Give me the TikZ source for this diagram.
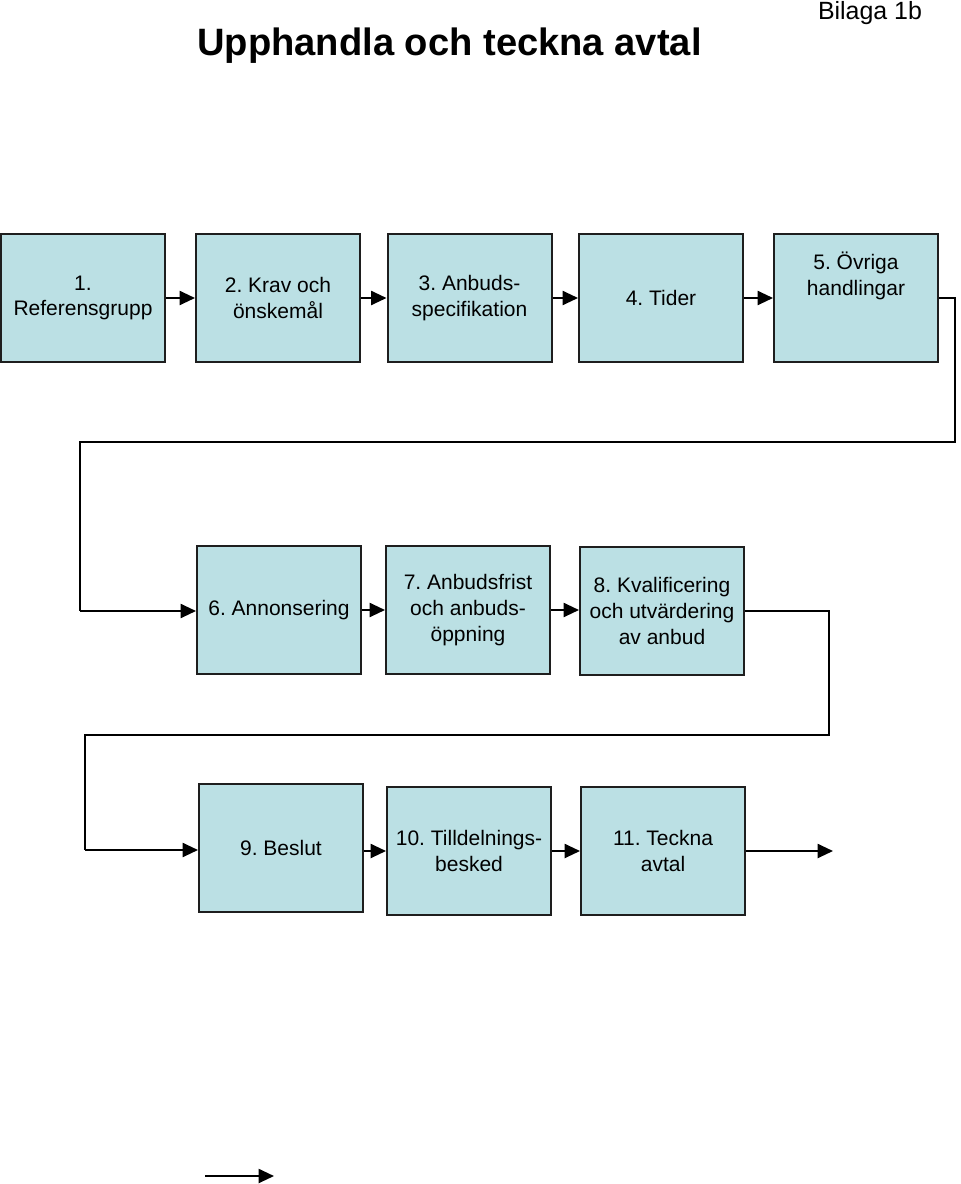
\documentclass[tikz,border=0pt]{standalone}
\usepackage{fontspec}
\setmainfont{Liberation Sans}
\usetikzlibrary{arrows.meta}
\frenchspacing

\definecolor{boxfill}{RGB}{187,224,228}
\definecolor{boxline}{RGB}{30,30,30}

\tikzset{
  box/.style={draw=boxline, fill=boxfill, line width=1.5pt, minimum width=123pt, minimum height=96pt,
    align=center, inner sep=0pt, font=\fontsize{15.75}{19.2}\selectfont},
  lbl/.style={align=center, inner sep=0pt, font=\fontsize{15.75}{19.2}\selectfont},
  flow/.style={line width=1.5pt, -{Triangle[length=11.5pt,width=10.5pt]}},
  wire/.style={line width=1.5pt}
}

\begin{document}
\begin{tikzpicture}[x=0.75pt,y=0.75pt,yscale=-1]
\useasboundingbox (0,0) rectangle (960,1184);

% Title
\node [anchor=base, inner sep=0pt, font=\fontsize{28.6}{34}\selectfont\bfseries] (title) at (449.5,56) {Upphandla och teckna avtal};
\node [anchor=base, inner sep=0pt, font=\fontsize{18.7}{22}\selectfont] (bilaga) at (870,20) {Bilaga 1b};

%Row 1
\node [box] (b1) at (83,298) {1.\\Referensgrupp};
\node [box] (b2) at (278,298) {2. Krav och\\önskemål};
\node [box] (b3) at (469.5,298) {3. Anbuds-\\specifikation};
\node [box] (b4) at (661,298) {4. Tider};
\node [box] (b5) at (856,298) {};
\node [lbl] (t5) at (856,276) {5. Övriga\\handlingar};

%Row 2
\node [box] (b6) at (279,610) {6. Annonsering};
\node [box] (b7) at (468,610) {7. Anbudsfrist\\och anbuds-\\öppning};
\node [box] (b8) at (662,611) {8. Kvalificering\\och utvärdering\\av anbud};

%Row 3
\node [box] (b9) at (281,848) {9. Beslut};
\node [box] (b10) at (469,851) {10. Tilldelnings-\\besked};
\node [box] (b11) at (663,851) {11. Teckna\\avtal};

%Bends
\coordinate (k1) at (955,298);
\coordinate (k2) at (955,442);
\coordinate (k3) at (80,442);
\coordinate (k4) at (80,611);
\coordinate (k5) at (829,611);
\coordinate (k6) at (829,735);
\coordinate (k7) at (85,735);
\coordinate (k8) at (85,850);
\coordinate (e1) at (833,851);
\coordinate (s2) at (205,1176);
\coordinate (e2) at (274,1176);

%Arrows
\draw [flow] (b1) -- (b2);
\draw [flow] (b2) -- (b3);
\draw [flow] (b3) -- (b4);
\draw [flow] (b4) -- (b5);
\draw [wire] (b5.east) -- (k1) -- (k2) -- (k3) -- (k4);
\draw [flow] (k4) -- (b6.west |- k4);
\draw [flow] (b6) -- (b7);
\draw [flow] (b7) -- (b8.west |- b7);
\draw [wire] (b8.east) -- (k5) -- (k6) -- (k7) -- (k8);
\draw [flow] (k8) -- (b9.west |- k8);
\draw [flow] (b9.east |- b10) -- (b10);
\draw [flow] (b10) -- (b11);
\draw [flow] (b11) -- (e1);
\draw [flow] (s2) -- (e2);

\end{tikzpicture}
\end{document}
